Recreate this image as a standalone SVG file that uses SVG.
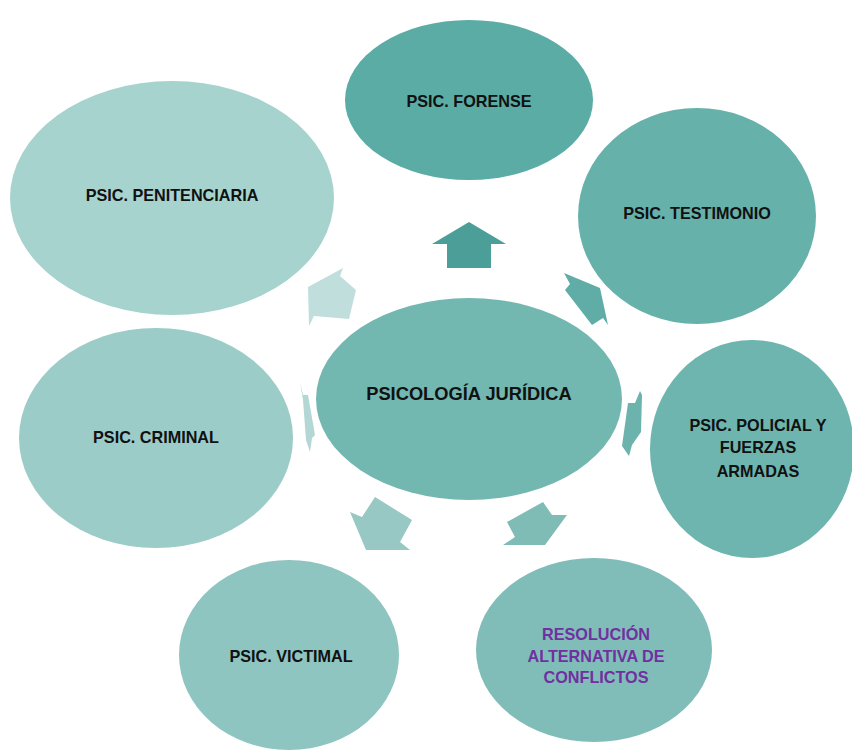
<svg xmlns="http://www.w3.org/2000/svg" width="852" height="750" viewBox="0 0 852 750">
<style>
.lbl{font-family:"Liberation Sans",Arial,sans-serif;font-weight:bold;font-size:16.2px;fill:#111;text-anchor:middle}
.purple{fill:#7030a0}
.big{font-size:18.3px}
</style>
<rect width="852" height="750" fill="#ffffff"/>
<g id="connectors">
<polygon points="469,222 506,244 491,244 491,268 447,268 447,244 432,244" fill="#4c9f98"/>
<polygon points="564,273 600,288 608,325 603,318 592,325 565,290 570,284" fill="#5fada6"/>
<polygon points="640,391 642,395 641,432 632,445 629,456 622,446 628,403 635,403" fill="#6db3ad"/>
<polygon points="545,545 567,515 552,515 543,502 507,522 515,537 503,545" fill="#7fbcb6"/>
<polygon points="366,550 350,512 362,517 375,497 412,520 400,542 410,550" fill="#97c8c3"/>
<polygon points="300,382 303,395 308,395 315,435 312,438 310,452 306,440 303,400" fill="#b2d7d4"/>
<polygon points="308,287 343,268 340,276 356,290 349,319 314,316 309,326" fill="#c0dfdc"/>
</g>
<g id="forense">
<ellipse cx="469" cy="100" rx="124" ry="80" fill="#5aaca5"/>
<text class="lbl" x="469" y="107">PSIC. FORENSE</text>
</g>
<g id="testimonio">
<ellipse cx="697" cy="216" rx="119" ry="108" fill="#66b2ab"/>
<text class="lbl" x="697" y="219">PSIC. TESTIMONIO</text>
</g>
<g id="policial">
<ellipse cx="752" cy="449" rx="102" ry="109" fill="#6db5ae"/>
<text class="lbl" x="758" y="431">PSIC. POLICIAL Y</text>
<text class="lbl" x="758" y="453">FUERZAS</text>
<text class="lbl" x="758" y="477">ARMADAS</text>
</g>
<g id="resolucion">
<ellipse cx="594" cy="650" rx="118" ry="92" fill="#80bdb8"/>
<text class="lbl purple" x="596" y="640">RESOLUCIÓN</text>
<text class="lbl purple" x="596" y="662">ALTERNATIVA DE</text>
<text class="lbl purple" x="596" y="683">CONFLICTOS</text>
</g>
<g id="victimal">
<ellipse cx="289" cy="655" rx="110" ry="95" fill="#8ec5c0"/>
<text class="lbl" x="291" y="662">PSIC. VICTIMAL</text>
</g>
<g id="criminal">
<ellipse cx="156" cy="438" rx="137" ry="110" fill="#9bccc8"/>
<text class="lbl" x="156" y="443">PSIC. CRIMINAL</text>
</g>
<g id="penitenciaria">
<ellipse cx="172" cy="198" rx="162" ry="117" fill="#a7d3cf"/>
<text class="lbl" x="172" y="201">PSIC. PENITENCIARIA</text>
</g>
<g id="central">
<ellipse cx="469" cy="399" rx="153" ry="101" fill="#73b7b1"/>
<text class="lbl big" x="469" y="400">PSICOLOGÍA JURÍDICA</text>
</g>
</svg>
